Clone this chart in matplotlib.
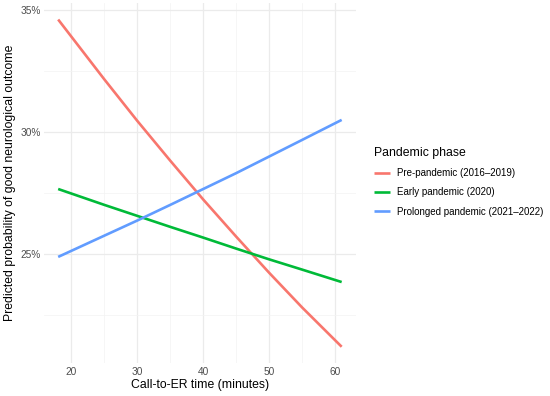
import matplotlib.pyplot as plt
from matplotlib.ticker import FixedLocator, FuncFormatter

plt.rcParams['font.family'] = ['Liberation Sans', 'DejaVu Sans']

# values
minutes = [18, 25, 30, 35, 40, 45, 50, 55, 61]
pre_pandemic = [0.346, 0.3215, 0.3045, 0.2882, 0.2723, 0.2571, 0.2423, 0.2281, 0.212]
early_pandemic = [0.2766, 0.2701, 0.2656, 0.2611, 0.2567, 0.2522, 0.2478, 0.2436, 0.2385]
prolonged_pandemic = [0.2488, 0.2575, 0.2637, 0.2701, 0.2766, 0.2831, 0.2899, 0.2967, 0.3049]

series_labels = ['Pre-pandemic (2016\u20132019)', 'Early pandemic (2020)',
                 'Prolonged pandemic (2021\u20132022)']
colors = ['#F8766D', '#00BA38', '#619CFF']

fig = plt.figure(figsize=(5.5, 3.96), dpi=100)
ax = fig.add_axes([0.08, 0.083, 0.567, 0.909])

for vals, lab, col in zip([pre_pandemic, early_pandemic, prolonged_pandemic], series_labels, colors):
    ax.plot(minutes, vals, color=col, linewidth=1.9, label=lab, solid_capstyle='butt')

ax.set_xlim(15.85, 63.15)
ax.set_ylim(0.2053, 0.3527)

ax.xaxis.set_major_locator(FixedLocator([20, 30, 40, 50, 60]))
ax.xaxis.set_minor_locator(FixedLocator([25, 35, 45, 55]))
ax.yaxis.set_major_locator(FixedLocator([0.25, 0.30, 0.35]))
ax.yaxis.set_minor_locator(FixedLocator([0.225, 0.275, 0.325]))
ax.yaxis.set_major_formatter(FuncFormatter(lambda v, p: f"{v*100:.0f}%"))

ax.grid(True, which='major', color='#EBEBEB', linewidth=0.9)
ax.grid(True, which='minor', color='#F3F3F3', linewidth=0.5)
ax.set_axisbelow(True)
for s in ax.spines.values():
    s.set_visible(False)
ax.tick_params(which='both', length=0, labelsize=7.3, labelcolor='#4D4D4D', pad=2.5)

ax.set_xlabel('Call-to-ER time (minutes)', fontsize=8.8, labelpad=2)
ax.set_ylabel('Predicted probability of good neurological outcome', fontsize=8.8, labelpad=3)

leg = ax.legend(loc='upper left', bbox_to_anchor=(1.03, 0.625), frameon=False,
                title='Pandemic phase', fontsize=7.0, title_fontsize=8.8,
                handlelength=1.6, handletextpad=0.8, labelspacing=0.95)
leg._legend_box.align = 'left'

fig.savefig('out.png', dpi=100)
